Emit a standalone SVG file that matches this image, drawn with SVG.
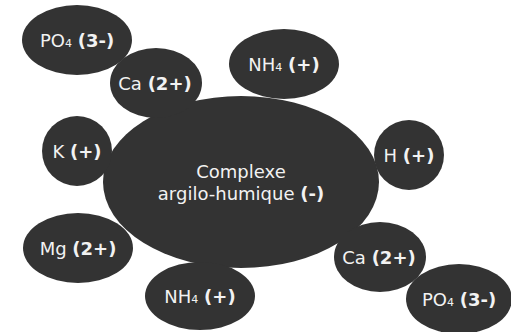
<svg xmlns="http://www.w3.org/2000/svg" width="511" height="332" viewBox="0 0 511 332">
<style>
.n{fill:#333333}
text{font-family:"DejaVu Sans",sans-serif;font-size:18px;fill:#f2f2f2;text-anchor:middle}
.b{font-weight:bold}
.s{font-size:11px}
</style>
<rect width="511" height="332" fill="#ffffff"/>
<g id="connectors"></g>
<g id="main"><ellipse class="n" cx="241" cy="182" rx="138" ry="86"/>
<text x="241" y="178">Complexe</text>
<text x="241" y="200">argilo-humique <tspan class="b">(-)</tspan></text></g>
<g id="po4a"><ellipse class="n" cx="77" cy="40" rx="55" ry="35"/><text x="77" y="47">PO<tspan class="s">4</tspan> <tspan class="b">(3-)</tspan></text></g>
<g id="ca1"><ellipse class="n" cx="156" cy="83" rx="46" ry="35"/><text x="155" y="90">Ca <tspan class="b">(2+)</tspan></text></g>
<g id="nh4a"><ellipse class="n" cx="284" cy="64" rx="55" ry="35"/><text x="284" y="71">NH<tspan class="s">4</tspan> <tspan class="b">(+)</tspan></text></g>
<g id="k"><ellipse class="n" cx="77" cy="151" rx="35" ry="35"/><text x="77" y="158">K <tspan class="b">(+)</tspan></text></g>
<g id="h"><ellipse class="n" cx="409" cy="155" rx="35" ry="35"/><text x="409" y="162">H <tspan class="b">(+)</tspan></text></g>
<g id="mg"><ellipse class="n" cx="78" cy="248" rx="55" ry="35"/><text x="78" y="255">Mg <tspan class="b">(2+)</tspan></text></g>
<g id="nh4b"><ellipse class="n" cx="200" cy="296" rx="55" ry="34"/><text x="200" y="303">NH<tspan class="s">4</tspan> <tspan class="b">(+)</tspan></text></g>
<g id="ca2"><ellipse class="n" cx="380" cy="257" rx="46" ry="35"/><text x="379" y="264">Ca <tspan class="b">(2+)</tspan></text></g>
<g id="po4b"><ellipse class="n" cx="459" cy="299" rx="53" ry="35"/><text x="459" y="306">PO<tspan class="s">4</tspan> <tspan class="b">(3-)</tspan></text></g>
</svg>
